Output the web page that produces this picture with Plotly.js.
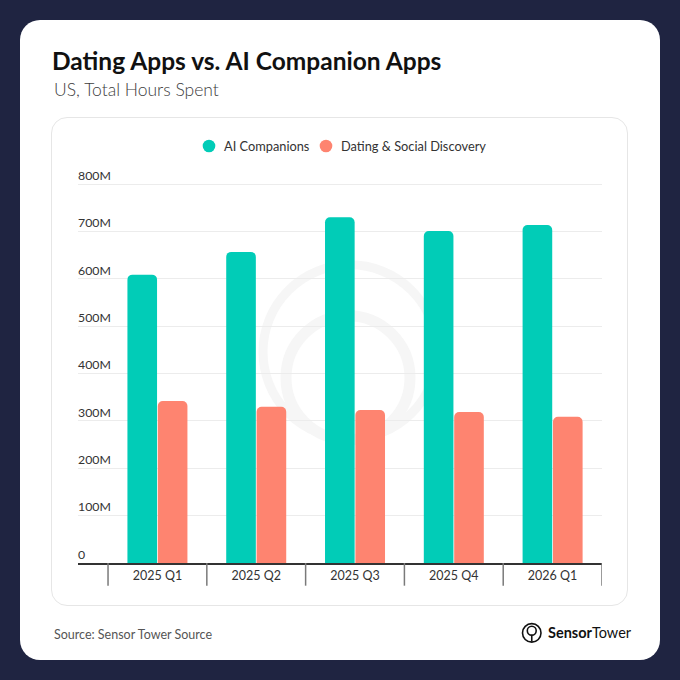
<!DOCTYPE html>
<html>
<head>
<meta charset="utf-8">
<script src="https://cdn.plot.ly/plotly-3.0.1.min.js"></script>
<style>
  html, body { margin:0; padding:0; width:680px; height:680px; background:#1f2441; overflow:hidden; }
  #card { position:absolute; left:20px; top:20px; width:640px; height:640px; background:#ffffff; border-radius:20px; }
  #panel { position:absolute; left:51px; top:117px; width:577px; height:489px; border:1.5px solid #e6e6e6; border-radius:16px; box-sizing:border-box; }
  #chart { position:absolute; left:0; top:0; width:680px; height:680px; }
</style>
</head>
<body>
<div id="card"></div>
<div id="panel"></div>
<div id="chart"></div>
<script>
// ---- data (hours spent, millions) ----
const quarters = ['2025 Q1', '2025 Q2', '2025 Q3', '2025 Q4', '2026 Q1'];
const aiCompanions = [609, 657, 730, 701, 714];
const datingSocial = [342, 330, 323, 319, 309];
const yTickVals = [0, 100, 200, 300, 400, 500, 600, 700, 800];
const yTickText = ['0', '100M', '200M', '300M', '400M', '500M', '600M', '700M', '800M'];
const seriesNames = ['AI Companions', 'Dating & Social Discovery'];
const seriesColors = ['#01ccb7', '#fe8470'];

// ---- geometry helpers (pixel -> paper) ----
const YMAX = 830;
const L = 78, R = 602, B = 563.3;
const PXPERUNIT = (563.3 - 184.3) / 800;
const T = B - YMAX * PXPERUNIT;
const W = R - L, H = B - T;
const px = v => (v - L) / W;
const py = v => (B - v) / H;
const FONT = 'Lato, "Noto Sans", sans-serif';

const traces = [
  { type:'bar', x:quarters, y:aiCompanions, name:seriesNames[0], showlegend:false,
    marker:{ color:seriesColors[0], cornerradius:5 } },
  { type:'bar', x:quarters, y:datingSocial, name:seriesNames[1], showlegend:false,
    marker:{ color:seriesColors[1], cornerradius:5 } }
];

// boundary tick marks below the axis
const shapes = [];
for (let i = 0; i <= quarters.length; i++) {
  shapes.push({ type:'line', xref:'x', yref:'paper', x0:i - 0.5, x1:i - 0.5, y0:0, y1:py(586),
    line:{ color:'#7a7a7a', width:1.5 }, layer:'above' });
}
// faint watermark logo
shapes.push({ type:'circle', xref:'paper', yref:'paper', layer:'below',
  x0:px(350-87), x1:px(350+87), y0:py(352+87), y1:py(352-87), line:{ color:'#f6f6f6', width:9 } });
shapes.push({ type:'circle', xref:'paper', yref:'paper', layer:'below',
  x0:px(348-62), x1:px(348+62), y0:py(378+62), y1:py(378-62), line:{ color:'#f6f6f6', width:11 } });
// legend markers
const legendMarkerX = [209, 326];
const legendTextX = [222, 339];
const LEGY = 146;
for (let i = 0; i < seriesNames.length; i++) {
  shapes.push({ type:'circle', xref:'paper', yref:'paper', layer:'above', fillcolor:seriesColors[i],
    line:{ width:0 }, x0:px(legendMarkerX[i]-6.3), x1:px(legendMarkerX[i]+6.3),
    y0:py(LEGY+6.3), y1:py(LEGY-6.3) });
}
// footer logo icon
shapes.push({ type:'circle', xref:'paper', yref:'paper', layer:'above',
  x0:px(522.5), x1:px(541), y0:py(642.5), y1:py(624), line:{ color:'#111111', width:1.6 } });
shapes.push({ type:'circle', xref:'paper', yref:'paper', layer:'above',
  x0:px(527.3), x1:px(536.2), y0:py(635.5), y1:py(626.6), line:{ color:'#111111', width:1.6 } });
shapes.push({ type:'line', xref:'paper', yref:'paper', layer:'above',
  x0:px(531.75), x1:px(531.75), y0:py(635.5), y1:py(642), line:{ color:'#111111', width:1.6 } });

const annotations = [
  { xref:'paper', yref:'paper', x:px(52), y:py(90), xanchor:'left', yanchor:'middle', showarrow:false,
    text:'US, Total Hours Spent', font:{ family:FONT, size:17.5, color:'#3d3d3d', weight:300 } },
  { xref:'paper', yref:'paper', x:px(52), y:py(635), xanchor:'left', yanchor:'middle', showarrow:false,
    text:'Source: Sensor Tower Source', font:{ family:FONT, size:12.5, color:'#555555' } },
  { xref:'paper', yref:'paper', x:px(545.5), y:py(633), xanchor:'left', yanchor:'middle', showarrow:false,
    text:'<b>Sensor</b>Tower', font:{ family:FONT, size:14.5, color:'#111111' } }
];
for (let i = 0; i < seriesNames.length; i++) {
  annotations.push({ xref:'paper', yref:'paper', x:px(legendTextX[i]), y:py(LEGY), xanchor:'left',
    yanchor:'middle', showarrow:false, text:seriesNames[i].replace('&', '&amp;'),
    font:{ family:FONT, size:12.8, color:'#333333' } });
}

const layout = {
  width:680, height:680,
  margin:{ l:L, r:680 - R, t:T, b:680 - B, pad:0 },
  paper_bgcolor:'rgba(0,0,0,0)', plot_bgcolor:'rgba(0,0,0,0)',
  font:{ family:FONT, color:'#333333' },
  title:{ text:'<b>Dating Apps vs. AI Companion Apps</b>', x:52/680, xanchor:'left', xref:'container',
    y:1 - 61/680, yanchor:'middle', yref:'container', font:{ family:FONT, size:24.5, color:'#111111' } },
  barmode:'group', bargap:0.385, bargroupgap:0.025,
  xaxis:{ type:'category', range:[-0.804, 4.5], showgrid:false, zeroline:false,
    showline:true, linecolor:'#333333', linewidth:1.6, ticks:'', ticklen:0,
    tickfont:{ family:FONT, size:12.5, color:'#333333' }, fixedrange:true },
  yaxis:{ range:[0, YMAX], tickmode:'array', tickvals:yTickVals, ticktext:yTickText,
    ticklabelposition:'inside top', ticklabeloverflow:'allow', ticklabelstandoff:-3,
    ticks:'', showgrid:true, gridcolor:'#ececec', gridwidth:1,
    zeroline:false, showline:false, tickfont:{ family:FONT, size:12.3, color:'#333333' }, fixedrange:true },
  showlegend:false, hovermode:false,
  shapes:shapes, annotations:annotations
};

Plotly.newPlot('chart', traces, layout, { staticPlot:true, displayModeBar:false });
</script>
</body>
</html>
